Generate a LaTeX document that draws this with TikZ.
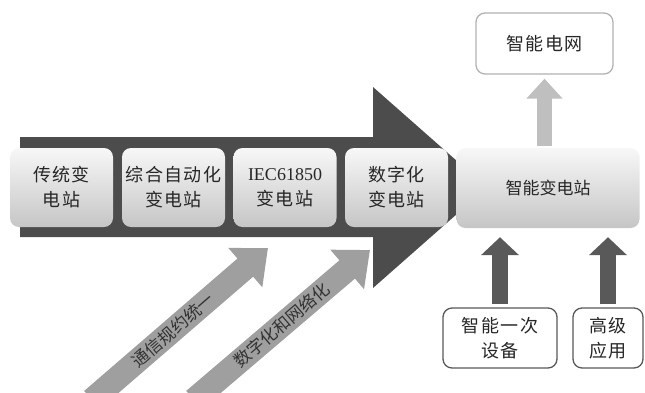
\documentclass[tikz,border=0pt]{standalone}
\usepackage{fontspec}
\setmainfont{Liberation Serif}
\newfontfamily\cjk{Noto Sans CJK SC}
\newfontfamily\cjksp[LetterSpace=8]{Noto Sans CJK SC}
\usetikzlibrary{arrows.meta}
\begin{document}
\begin{tikzpicture}[x=1pt,y=-1pt,
  stage/.style={rounded corners=9pt, top color=gray!6, bottom color=gray!45,
    minimum width=103pt, minimum height=79pt, align=center, text=black!85,
    font=\cjksp\fontsize{18}{25}\selectfont, inner sep=0pt},
  outbox/.style={rounded corners=9pt, draw=black!65, line width=1.3pt, fill=white,
    align=center, text=black!85, font=\cjksp\fontsize{18}{25}\selectfont, inner sep=0pt},
  uparrow/.style={line width=16pt, draw=black!65,
    -{Triangle[width=37pt,length=18pt]}, shorten <=3pt, shorten >=9pt},
  lightarrow/.style={line width=15pt, draw=gray!50,
    -{Triangle[width=35pt,length=20pt]}, shorten <=2pt, shorten >=4pt},
  diagarrow/.style={line width=24pt, draw=gray!75,
    -{Triangle[width=50pt,length=30pt]}},
  diaglabel/.style={sloped, text=black!80, inner sep=0pt, font=\cjk\fontsize{17}{17}\selectfont}
]
\useasboundingbox (0,0) rectangle (645,392);
\clip (0,0) rectangle (645,392);
% big backdrop arrow
\fill[black!70] (20,137) -- (373,137) -- (373,87) -- (487,187.5) -- (373,288) -- (373,237) -- (20,237) -- cycle;
% stage boxes
\node[stage] (s1) at (61.5,187.5) {传统变\\电站};
\node[stage] (s2) at (173.5,187.5) {综合自动化\\变电站};
\node[stage] (s3) at (285,187.5) {{\rmfamily\fontsize{18}{25}\selectfont IEC61850}\\变电站};
\node[stage] (s4) at (396.5,187.5) {数字化\\变电站};
\node[stage, font=\cjk\fontsize{17}{25}\selectfont, minimum width=183pt, minimum height=80pt] (sub) at (548,188) {智能变电站};
% top box
\node[outbox, draw=gray!60, minimum width=137pt, minimum height=61pt] (grid) at (544.5,43.5) {智能电网};
% bottom boxes
\node[outbox, minimum width=114pt, minimum height=60pt] (dev) at (500,338) {智能一次\\设备};
\node[outbox, minimum width=70pt, minimum height=60pt] (app) at (608,338) {高级\\应用};
% arrows
\draw[lightarrow] (sub.north -| grid.south) -- (grid.south);
\draw[uparrow] (dev.north) -- (dev.north |- sub.south);
\draw[uparrow] (app.north) -- (app.north |- sub.south);
% diagonal arrows
\coordinate (d1s) at (92,400);
\coordinate (d1e) at (268,248);
\coordinate (d2s) at (194,400);
\coordinate (d2e) at (370,250);
\draw[diagarrow] (d1s) -- (d1e) node[diaglabel, pos=0.46] (t1) {通信规约统一};
\draw[diagarrow] (d2s) -- (d2e) node[diaglabel, pos=0.5] (t2) {数字化和网络化};
\end{tikzpicture}
\end{document}
